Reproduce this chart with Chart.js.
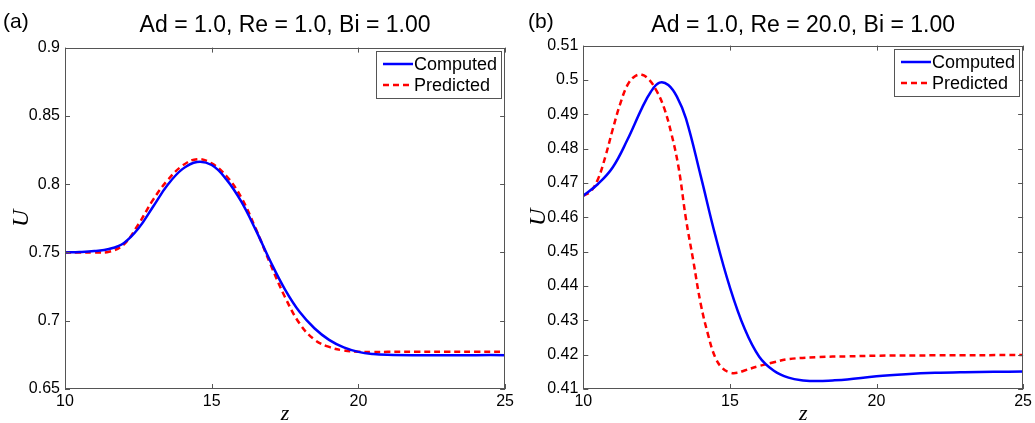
<!DOCTYPE html>
<html>
<head>
<meta charset="utf-8">
<script src="https://cdn.jsdelivr.net/npm/chart.js@4.4.1/dist/chart.umd.min.js"></script>
<style>
html, body { margin: 0; padding: 0; background: #fff; }
#wrap { position: relative; width: 1035px; height: 423px; }
.panel { position: absolute; top: 0; height: 423px; }
#pa { left: 0; width: 517px; }
#pb { left: 517px; width: 518px; }
</style>
</head>
<body>
<div id="wrap">
  <div class="panel" id="pa"><canvas id="chartA" width="517" height="423"></canvas></div>
  <div class="panel" id="pb"><canvas id="chartB" width="518" height="423"></canvas></div>
</div>
<script>
// values
const seriesNames = ['Computed', 'Predicted'];
const panelTags = ['(a)', '(b)'];
const panelTitles = ['Ad = 1.0, Re = 1.0, Bi = 1.00', 'Ad = 1.0, Re = 20.0, Bi = 1.00'];
const xTicks = [10, 15, 20, 25];
const yTicksA = [0.65, 0.7, 0.75, 0.8, 0.85, 0.9];
const yTicksB = [0.41, 0.42, 0.43, 0.44, 0.45, 0.46, 0.47, 0.48, 0.49, 0.5, 0.51];

// panel (a)
const zA = [10, 10.5, 11, 11.5, 12, 12.5, 13, 13.5, 14, 14.5, 15, 15.5, 16, 16.5, 17, 17.5, 18, 18.5, 19, 19.5, 20, 20.5, 21, 22, 23, 24, 25];
const uCompA = [0.7500, 0.7503, 0.7510, 0.7525, 0.7568, 0.7675, 0.7835, 0.7995, 0.8110, 0.8163, 0.8140, 0.8035, 0.7875, 0.7665, 0.7435, 0.7228, 0.7063, 0.6945, 0.6860, 0.6805, 0.6772, 0.6756, 0.6750, 0.6747, 0.6747, 0.6748, 0.6748];
const uPredA = [0.7500, 0.7500, 0.7500, 0.7505, 0.7558, 0.7705, 0.7885, 0.8030, 0.8135, 0.8183, 0.8152, 0.8060, 0.7905, 0.7675, 0.7415, 0.7172, 0.6978, 0.6862, 0.6808, 0.6782, 0.6773, 0.6771, 0.6772, 0.6772, 0.6773, 0.6773, 0.6773];

// panel (b)
const zCompB = [10, 10.5, 11, 11.5, 12, 12.3, 12.6, 12.9, 13.2, 13.5, 14, 14.5, 15, 15.5, 16, 16.5, 17, 17.5, 18, 18.5, 19, 20, 21, 22, 23, 24, 25];
const uCompB = [0.4663, 0.4697, 0.4745, 0.4825, 0.4918, 0.4965, 0.4992, 0.4985, 0.4950, 0.4888, 0.4722, 0.4548, 0.4396, 0.4276, 0.4194, 0.4153, 0.4133, 0.4125, 0.4123, 0.4125, 0.4128, 0.4137, 0.4143, 0.4147, 0.4149, 0.4150, 0.4151];
const zPredB = [10, 10.25, 10.5, 10.75, 11, 11.25, 11.5, 11.75, 12, 12.25, 12.5, 12.75, 13, 13.25, 13.5, 13.75, 14, 14.25, 14.5, 14.75, 15, 15.25, 15.5, 16, 16.5, 17, 18, 19, 20, 22, 25];
const uPredB = [0.4663, 0.4675, 0.4711, 0.4776, 0.4855, 0.4928, 0.4984, 0.5010, 0.5015, 0.5000, 0.4968, 0.4920, 0.4845, 0.4745, 0.4596, 0.4474, 0.4350, 0.4260, 0.4192, 0.4160, 0.4148, 0.4147, 0.4154, 0.4167, 0.4178, 0.4187, 0.4193, 0.4195, 0.4197, 0.4198, 0.4199];

const sans = '"Liberation Sans", Arial, Helvetica, sans-serif';
const serif = '"Liberation Serif", "DejaVu Serif", serif';

function pairs(xs, ys) {
	return xs.map((x, i) => ({ x: x, y: ys[i] }));
}

// matlab style box with inward ticks
const boxPlugin = {
	id: 'box',
	afterDatasetsDraw(chart) {
		const { ctx, chartArea: a, scales } = chart;
		ctx.save();
		ctx.strokeStyle = '#555';
		ctx.lineWidth = 1;
		ctx.strokeRect(Math.round(a.left) + 0.5, Math.round(a.top) + 0.5, Math.round(a.width) - 1, Math.round(a.height) - 1);
		ctx.beginPath();
		scales.x.ticks.forEach(t => {
			const px = Math.round(scales.x.getPixelForValue(t.value)) + 0.5;
			ctx.moveTo(px, a.bottom); ctx.lineTo(px, a.bottom - 5);
			ctx.moveTo(px, a.top); ctx.lineTo(px, a.top + 5);
		});
		scales.y.ticks.forEach(t => {
			const py = Math.round(scales.y.getPixelForValue(t.value)) + 0.5;
			ctx.moveTo(a.left, py); ctx.lineTo(a.left + 5, py);
			ctx.moveTo(a.right, py); ctx.lineTo(a.right - 5, py);
		});
		ctx.stroke();
		ctx.restore();
	}
};

// legend box inside the plot, top right
const boxLegend = {
	id: 'boxLegend',
	afterDraw(chart) {
		const { ctx, chartArea: a } = chart;
		const w = 125, h = 47;
		const x0 = Math.round(a.right - 4 - w), y0 = Math.round(a.top + 3);
		ctx.save();
		ctx.fillStyle = '#fff';
		ctx.fillRect(x0, y0, w, h);
		ctx.strokeStyle = '#555';
		ctx.lineWidth = 1;
		ctx.strokeRect(x0 + 0.5, y0 + 0.5, w, h);
		ctx.font = '18px ' + sans;
		ctx.textBaseline = 'middle';
		chart.data.datasets.forEach((ds, i) => {
			const y = y0 + 13 + i * 21;
			ctx.strokeStyle = ds.borderColor;
			ctx.lineWidth = ds.borderWidth;
			ctx.setLineDash(ds.borderDash || []);
			ctx.beginPath();
			ctx.moveTo(x0 + 7, y);
			ctx.lineTo(x0 + 37, y);
			ctx.stroke();
			ctx.setLineDash([]);
			ctx.fillStyle = '#000';
			ctx.fillText(ds.label, x0 + 38, y + 1);
		});
		ctx.restore();
	}
};

// (a) / (b) letter
const panelTag = {
	id: 'panelTag',
	afterDraw(chart, args, opts) {
		const ctx = chart.ctx;
		ctx.save();
		ctx.font = '21px ' + sans;
		ctx.fillStyle = '#000';
		ctx.textBaseline = 'middle';
		ctx.fillText(opts.text, opts.x, 22);
		ctx.restore();
	}
};

function makePanel(id, k, zc, uc, zp, up, yTicks, axisW, padR, titleBottom) {
	const data = {
		datasets: [
			{
				label: seriesNames[0],
				data: pairs(zc, uc),
				borderColor: '#0000ff',
				borderWidth: 2.5,
				pointRadius: 0,
				tension: 0.4
			},
			{
				label: seriesNames[1],
				data: pairs(zp, up),
				borderColor: '#ff0000',
				borderWidth: 2.5,
				borderDash: [6, 4],
				pointRadius: 0,
				tension: 0.4
			}
		]
	};

	const config = {
		type: 'line',
		data: data,
		options: {
			responsive: false,
			animation: false,
			devicePixelRatio: 1,
			layout: { padding: { left: 0, right: padR, top: 0, bottom: 0 } },
			plugins: {
				legend: { display: false },
				tooltip: { enabled: false },
				title: {
					display: true,
					fullSize: false,
					text: panelTitles[k],
					color: '#000',
					font: { family: sans, size: 23, weight: 'normal', lineHeight: 1.2 },
					padding: { top: 12, bottom: titleBottom }
				},
				panelTag: { text: panelTags[k], x: k === 0 ? 3 : 11 }
			},
			scales: {
				x: {
					type: 'linear',
					min: xTicks[0],
					max: xTicks[xTicks.length - 1],
					afterBuildTicks: s => { s.ticks = xTicks.map(v => ({ value: v })); },
					afterFit: s => { s.height = 34; },
					grid: { display: false, drawTicks: false },
					border: { display: false },
					ticks: { color: '#000', font: { family: sans, size: 16 }, padding: 3, maxRotation: 0, callback: v => String(v) },
					title: { display: true, text: 'z', color: '#000', font: { family: serif, size: 22, style: 'italic', lineHeight: 1 }, padding: { top: 0, bottom: -2 } }
				},
				y: {
					type: 'linear',
					min: yTicks[0],
					max: yTicks[yTicks.length - 1],
					afterBuildTicks: s => { s.ticks = yTicks.map(v => ({ value: v })); },
					afterFit: s => { s.width = axisW; },
					grid: { display: false, drawTicks: false },
					border: { display: false },
					ticks: { color: '#000', font: { family: sans, size: 16 }, padding: 5, callback: v => String(v) },
					title: { display: true, text: 'U', color: '#000', font: { family: serif, size: 24, style: 'italic', lineHeight: 1.2 }, padding: { top: 7 } }
				}
			}
		},
		plugins: [boxPlugin, boxLegend, panelTag]
	};

	return new Chart(document.getElementById(id), config);
}

makePanel('chartA', 0, zA, uCompA, zA, uPredA, yTicksA, 65, 11, 8);
makePanel('chartB', 1, zCompB, uCompB, zPredB, uPredB, yTicksB, 66.3, 10, 6);
</script>
</body>
</html>
